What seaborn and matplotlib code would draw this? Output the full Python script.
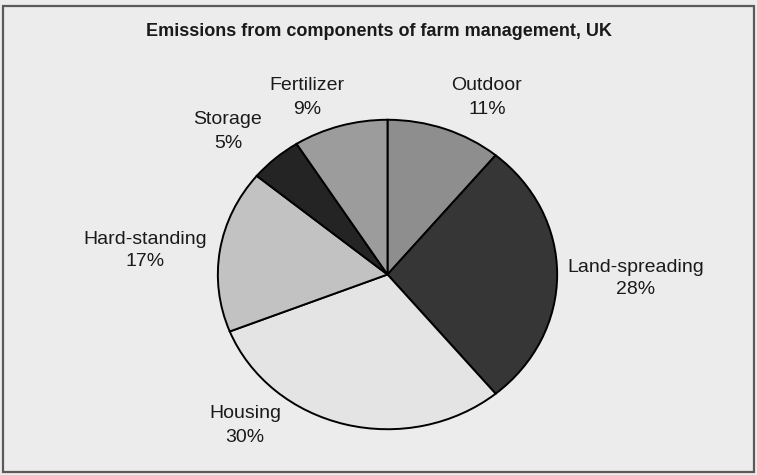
import matplotlib
matplotlib.use("Agg")
import matplotlib.pyplot as plt
import seaborn as sns
from matplotlib.patches import Rectangle

# data (clockwise from 12 o'clock)
components = ["Outdoor", "Land-spreading", "Housing", "Hard-standing", "Storage", "Fertilizer"]
shares = [11, 28, 30, 17, 5, 9]
greys = ["#8e8e8e", "#363636", "#e4e4e4", "#c2c2c2", "#242424", "#9c9c9c"]

# label anchor points in pixels (centre x, centre of first line y)
label_px = {
    "Outdoor": (487, 86),
    "Land-spreading": (636, 267),
    "Housing": (245, 414),
    "Hard-standing": (145, 239),
    "Storage": (228, 120),
    "Fertilizer": (307, 86),
}

sns.set_theme(style="white")
plt.rcParams["font.family"] = ["Liberation Sans", "DejaVu Sans"]

W, H = 757, 475
fig = plt.figure(figsize=(W / 100, H / 100), dpi=100)
fig.patch.set_facecolor("#ececec")

# frame around the chart
fig.add_artist(Rectangle((3 / W, 3 / H), (W - 6) / W, (H - 9) / H,
                         transform=fig.transFigure, fill=False,
                         edgecolor="#5a5a5a", linewidth=1.6))

# pie axes: scanned pie is slightly wider than tall
cx, cy, rx, ry = 387.5, 274.5, 170.5, 155.5
ax = fig.add_axes([(cx - rx) / W, (H - cy - ry) / H, 2 * rx / W, 2 * ry / H])
ax.pie(shares, colors=greys, startangle=90, counterclock=False,
       wedgeprops=dict(edgecolor="black", linewidth=1.4))
ax.set_aspect("auto")
ax.set_xlim(-1.005, 1.005)
ax.set_ylim(-1.005, 1.005)
ax.axis("off")

for name, val in zip(components, shares):
    x, y = label_px[name]
    fig.text(x / W, 1 - y / H, name, ha="center", va="center",
             fontsize=14, color="#1a1a1a")
    fig.text(x / W, 1 - (y + 23) / H, f"{val}%", ha="center", va="center",
             fontsize=14, color="#1a1a1a")

fig.text(379 / W, 1 - 31 / H, "Emissions from components of farm management, UK",
         ha="center", va="center", fontsize=13, fontweight="bold", color="#1a1a1a")

fig.savefig("out.png", dpi=100, facecolor=fig.get_facecolor())
